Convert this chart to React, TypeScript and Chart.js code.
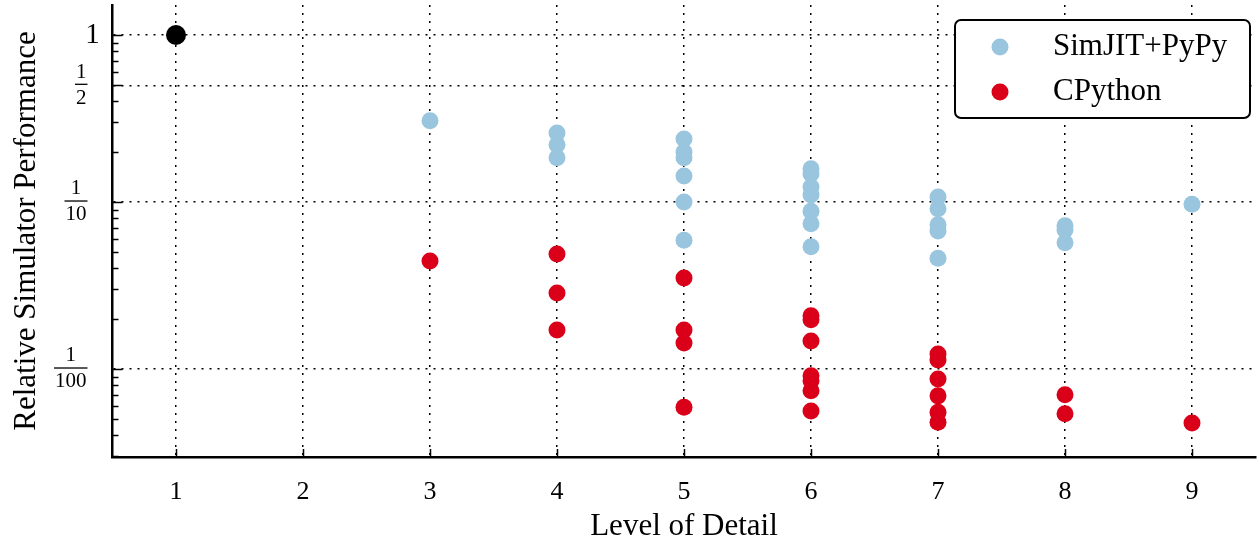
import React, { useEffect, useRef } from 'react';
import { Chart, registerables } from 'chart.js';
Chart.register(...registerables);

const levels = [1, 2, 3, 4, 5, 6, 7, 8, 9];

const simjitLevel = [3, 4, 4, 4, 5, 5, 5, 5, 5, 5, 6, 6, 6, 6, 6, 6, 6, 7, 7, 7, 7, 7, 8, 8, 8, 9];
const simjitPerf = [
  0.306,
  0.259, 0.22, 0.184,
  0.238, 0.199, 0.184, 0.143, 0.1, 0.059,
  0.158, 0.147, 0.123, 0.11, 0.088, 0.074, 0.054,
  0.107, 0.091, 0.073, 0.067, 0.046,
  0.072, 0.068, 0.057,
  0.097,
];

const cpythonLevel = [3, 4, 4, 4, 5, 5, 5, 5, 6, 6, 6, 6, 6, 6, 6, 7, 7, 7, 7, 7, 7, 8, 8, 9];
const cpythonPerf = [
  0.0443,
  0.0488, 0.0285, 0.0171,
  0.0351, 0.0171, 0.0143, 0.0059,
  0.0208, 0.0197, 0.0147, 0.0091, 0.0085, 0.0074, 0.0056,
  0.0123, 0.0113, 0.0087, 0.0069, 0.0055, 0.0048,
  0.007, 0.0054,
  0.00475,
];

const baselineLevel = [1];
const baselinePerf = [1];

const seriesLabels = ['SimJIT+PyPy', 'CPython'];
const seriesColors = ['#99c5de', '#da0019'];

const yMajorValues = [1, 0.5, 0.1, 0.01];
const yMajorNumerators = ['1', '1', '1', '1'];
const yMajorDenominators = ['', '2', '10', '100'];
const yMinorMultipliers = [2, 3, 4, 5, 6, 7, 8, 9];
const yDecades = [0.001, 0.01, 0.1];

const Y_MIN = 0.00297;
const Y_MAX = 1.512;
const FONT = '"Liberation Serif", "Times New Roman", serif';

const allYTicks: number[] = (() => {
  const out: number[] = [];
  yDecades.forEach((d) => {
    yMinorMultipliers.forEach((m) => {
      const v = +(m * d).toPrecision(6);
      if (v >= Y_MIN && v <= Y_MAX) out.push(v);
    });
  });
  yMajorValues.forEach((v) => { if (!out.includes(v)) out.push(v); });
  return out.sort((a, b) => a - b);
})();

const isMajor = (v: number) => yMajorValues.some((m) => Math.abs(m - v) / m < 1e-6);

const decorPlugin = {
  id: 'decor',
  afterDraw(chart: any) {
    const { ctx, chartArea, scales } = chart;
    const ys = scales.y;
    const xs = scales.x;
    ctx.save();
    ctx.strokeStyle = '#000';
    ctx.lineWidth = 1.5;
    // inward ticks on left axis
    allYTicks.forEach((v) => {
      const py = Math.round(ys.getPixelForValue(v)) + 0.5;
      const len = isMajor(v) ? 10 : 6;
      ctx.beginPath();
      ctx.moveTo(chartArea.left, py);
      ctx.lineTo(chartArea.left + len, py);
      ctx.stroke();
    });
    // inward ticks on bottom axis
    levels.forEach((v) => {
      const px = Math.round(xs.getPixelForValue(v)) + 0.5;
      ctx.beginPath();
      ctx.moveTo(px, chartArea.bottom);
      ctx.lineTo(px, chartArea.bottom - 8);
      ctx.stroke();
    });
    // y tick labels (fractions)
    ctx.fillStyle = '#000';
    ctx.textBaseline = 'middle';
    ctx.textAlign = 'center';
    yMajorValues.forEach((v, i) => {
      const py = ys.getPixelForValue(v);
      const num = yMajorNumerators[i];
      const den = yMajorDenominators[i];
      if (!den) {
        ctx.font = `29px ${FONT}`;
        ctx.fillText(num, chartArea.left - 20, py);
      } else {
        ctx.font = `21px ${FONT}`;
        const w = ctx.measureText(den).width + 2;
        const cx = chartArea.left - 25 - w / 2;
        ctx.fillText(num, cx, py - 13);
        ctx.fillText(den, cx, py + 13);
        ctx.fillRect(cx - w / 2, py - 1.6, w, 1.3);
      }
    });
    // legend
    const bx = 955, by = 20, bw = 295, bh = 98;
    ctx.beginPath();
    ctx.fillStyle = '#fff';
    (ctx as any).roundRect(bx, by, bw, bh, 6);
    ctx.fill();
    ctx.lineWidth = 2;
    ctx.strokeStyle = '#000';
    ctx.stroke();
    seriesLabels.forEach((lab, i) => {
      const cy = 47 + i * 45;
      ctx.beginPath();
      ctx.fillStyle = seriesColors[i];
      ctx.arc(1000, cy, 8.5, 0, Math.PI * 2);
      ctx.fill();
      ctx.fillStyle = '#000';
      ctx.font = `31px ${FONT}`;
      ctx.textAlign = 'left';
      ctx.textBaseline = 'middle';
      ctx.fillText(lab, 1053, cy);
    });
    ctx.restore();
  },
};

export default function App() {
  const ref = useRef<HTMLCanvasElement>(null);
  useEffect(() => {
    if (!ref.current) return;
    const chart = new Chart(ref.current, {
      type: 'scatter',
      data: {
        datasets: [
          {
            label: seriesLabels[0],
            data: simjitLevel.map((x, i) => ({ x, y: simjitPerf[i] })),
            backgroundColor: seriesColors[0],
            borderWidth: 0,
            pointRadius: 8.5,
            pointHoverRadius: 8.5,
          },
          {
            label: seriesLabels[1],
            data: cpythonLevel.map((x, i) => ({ x, y: cpythonPerf[i] })),
            backgroundColor: seriesColors[1],
            borderWidth: 0,
            pointRadius: 8.5,
            pointHoverRadius: 8.5,
          },
          {
            label: 'Baseline',
            data: baselineLevel.map((x, i) => ({ x, y: baselinePerf[i] })),
            backgroundColor: '#000',
            borderWidth: 0,
            pointRadius: 10,
            pointHoverRadius: 10,
          },
        ],
      },
      options: {
        responsive: false,
        animation: false,
        layout: { autoPadding: false, padding: { top: 5, right: 1.5, left: 0, bottom: 0 } },
        plugins: { legend: { display: false }, tooltip: { enabled: false } },
        scales: {
          x: {
            type: 'linear',
            min: 0.5,
            max: 9.5,
            afterBuildTicks: (s: any) => { s.ticks = levels.map((v) => ({ value: v })); },
            afterFit: (s: any) => { s.height = 88; },
            ticks: {
              color: '#000',
              font: { family: FONT, size: 26 },
              padding: 20,
              maxRotation: 0,
              callback: (v: any) => String(v),
            },
            grid: { color: '#000', lineWidth: 1.5, drawTicks: false },
            border: { display: true, color: '#000', width: 2.5, dash: [2, 6] },
            title: {
              display: true,
              text: 'Level of Detail',
              color: '#000',
              font: { family: FONT, size: 31 },
              padding: { top: 0, bottom: 0 },
            },
          },
          y: {
            type: 'logarithmic',
            min: Y_MIN,
            max: Y_MAX,
            afterBuildTicks: (s: any) => { s.ticks = allYTicks.map((v) => ({ value: v })); },
            afterFit: (s: any) => { s.width = 112.5; },
            ticks: { display: false },
            grid: {
              color: (c: any) => (c.tick && isMajor(c.tick.value) ? '#000' : 'rgba(0,0,0,0)'),
              lineWidth: 1.5,
              drawTicks: false,
            },
            border: { display: true, color: '#000', width: 2.5, dash: [2, 6] },
            title: {
              display: true,
              text: 'Relative Simulator Performance',
              color: '#000',
              font: { family: FONT, size: 31 },
              padding: { top: 8, bottom: 0 },
            },
          },
        },
      },
      plugins: [decorPlugin],
    } as any);
    return () => chart.destroy();
  }, []);
  return (
    <div style={{ position: 'fixed', left: 0, top: 0, width: 1257, height: 545, background: '#fff' }}>
      <canvas ref={ref} width={1257} height={545} />
    </div>
  );
}
